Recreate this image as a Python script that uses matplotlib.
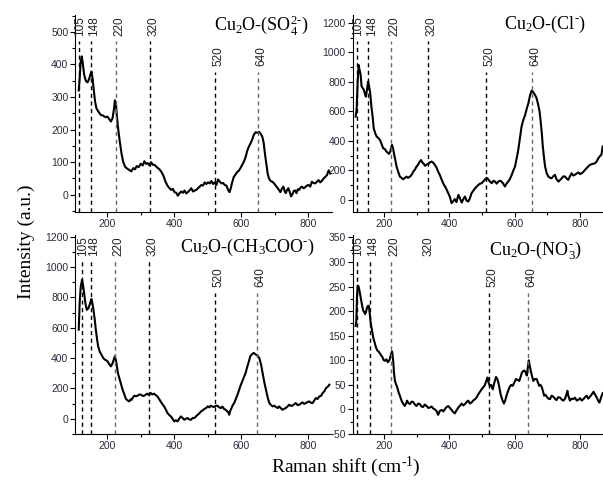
import numpy as np
import matplotlib
matplotlib.use('Agg')
import matplotlib.pyplot as plt
from matplotlib.ticker import MultipleLocator

plt.rcParams['font.family'] = 'Liberation Sans'
plt.rcParams['mathtext.fontset'] = 'custom'
plt.rcParams['mathtext.rm'] = 'Liberation Serif'
plt.rcParams['mathtext.it'] = 'Liberation Serif:italic'

# spectra (Raman shift cm-1, intensity a.u.)
so4 = [(115, 320), (118, 360), (121, 410), (124, 425), (127, 405), (131, 370), (136, 350), (141, 345),
       (146, 355), (150, 370), (153, 378), (156, 360), (160, 320), (164, 285), (168, 265), (174, 255),
       (181, 245), (188, 243), (195, 238), (201, 240), (206, 232), (211, 225), (216, 235), (220, 262),
       (223, 290), (226, 280), (229, 240), (233, 200), (238, 160), (243, 125), (248, 100), (254, 85),
       (260, 80), (266, 76), (272, 72), (278, 82), (283, 78), (288, 88), (294, 85), (300, 95),
       (306, 90), (311, 103), (316, 95), (321, 97), (326, 90), (331, 100), (336, 92), (341, 92),
       (348, 85), (356, 78), (362, 70), (368, 58), (374, 40), (380, 28), (386, 20), (391, 15),
       (396, 18), (401, 8), (406, 6), (411, -3), (416, 5), (421, 10), (426, 6), (431, 13),
       (436, 4), (441, 8), (446, 14), (451, 20), (456, 10), (461, 13), (466, 15), (471, 20),
       (476, 25), (481, 30), (486, 28), (491, 38), (496, 33), (501, 38), (506, 35), (511, 42),
       (516, 33), (521, 38), (526, 30), (531, 47), (536, 40), (541, 35), (546, 36), (551, 30),
       (556, 28), (561, 15), (565, 8), (569, 20), (573, 38), (578, 55), (583, 62), (588, 70),
       (593, 74), (598, 82), (603, 92), (608, 102), (613, 115), (618, 135), (623, 148), (628, 158),
       (633, 170), (638, 185), (643, 192), (648, 190), (653, 193), (658, 188), (663, 178), (667, 160),
       (671, 125), (675, 95), (679, 65), (683, 50), (688, 42), (693, 40), (698, 35), (703, 28),
       (708, 22), (713, 14), (717, 8), (721, 18), (726, 25), (730, 10), (733, 5), (737, 15),
       (741, 20), (745, 8), (749, -5), (753, 2), (757, 12), (761, 13), (765, 5), (769, 17),
       (773, 15), (777, 22), (781, 25), (786, 20), (791, 23), (796, 28), (801, 30), (806, 25),
       (811, 40), (816, 36), (821, 35), (826, 40), (831, 45), (836, 38), (841, 43), (846, 50),
       (851, 55), (856, 60), (861, 75), (866, 65)]

cl = [(114, 565), (117, 620), (120, 800), (123, 915), (126, 880), (129, 850), (132, 770), (135, 760),
      (139, 746), (142, 720), (145, 700), (148, 740), (152, 802), (155, 770), (158, 730), (162, 633),
      (166, 560), (169, 486), (174, 450), (178, 430), (183, 420), (188, 407), (193, 380), (198, 350),
      (203, 345), (208, 328), (212, 320), (216, 312), (220, 330), (223, 360), (225, 373), (228, 350),
      (231, 317), (235, 270), (239, 226), (244, 190), (249, 158), (254, 150), (259, 140), (264, 148),
      (269, 158), (274, 150), (280, 158), (285, 170), (290, 192), (295, 205), (300, 226), (305, 240),
      (310, 260), (314, 270), (318, 253), (322, 245), (326, 231), (331, 240), (336, 244), (341, 255),
      (346, 260), (351, 252), (356, 237), (361, 220), (366, 192), (371, 170), (377, 136), (382, 110),
      (387, 91), (392, 70), (397, 45), (402, 20), (407, -22), (412, -10), (417, 5), (422, -15),
      (428, 34), (433, 10), (438, -18), (443, 5), (448, 23), (453, -5), (458, -11), (463, 10),
      (468, 45), (473, 60), (479, 79), (484, 90), (489, 102), (494, 110), (499, 113), (504, 125),
      (509, 136), (514, 150), (519, 140), (524, 125), (530, 113), (535, 130), (540, 124), (545, 110),
      (550, 124), (555, 130), (560, 124), (565, 110), (570, 91), (575, 110), (580, 124), (585, 140),
      (591, 170), (596, 200), (601, 226), (606, 280), (611, 339), (616, 420), (621, 497), (626, 540),
      (632, 576), (637, 620), (642, 656), (647, 710), (652, 741), (657, 730), (662, 712), (667, 690),
      (672, 644), (676, 600), (679, 543), (683, 450), (686, 362), (690, 280), (693, 226), (698, 180),
      (703, 158), (708, 150), (713, 147), (718, 160), (723, 170), (728, 140), (734, 124), (739, 135),
      (744, 147), (749, 160), (754, 158), (759, 145), (764, 136), (769, 160), (774, 181), (779, 165),
      (784, 170), (790, 180), (795, 186), (800, 175), (805, 181), (810, 190), (815, 204), (820, 215),
      (825, 226), (830, 238), (835, 242), (840, 245), (846, 249), (851, 262), (856, 283), (861, 298),
      (865, 305), (869, 362)]

acetate = [(115, 587), (118, 773), (121, 870), (125, 916), (128, 880), (131, 828), (135, 760), (139, 718),
           (143, 725), (146, 740), (150, 770), (153, 789), (156, 760), (159, 718), (163, 650), (166, 587),
           (170, 520), (173, 477), (178, 440), (183, 422), (188, 400), (193, 389), (197, 385), (201, 378),
           (206, 360), (211, 345), (215, 360), (218, 378), (221, 400), (223, 411), (226, 385), (229, 345),
           (232, 300), (236, 268), (241, 230), (246, 191), (251, 160), (256, 130), (261, 120), (266, 114),
           (270, 128), (273, 125), (277, 140), (281, 152), (286, 148), (291, 152), (296, 160), (301, 158),
           (306, 150), (311, 152), (316, 160), (320, 165), (325, 155), (330, 169), (335, 160), (340, 165),
           (345, 155), (350, 147), (355, 130), (360, 114), (365, 95), (370, 81), (375, 60), (380, 37),
           (385, 25), (390, 15), (395, 0), (400, -18), (405, -10), (410, -18), (415, 0), (420, 15),
           (425, 5), (430, -7), (435, 0), (440, 4), (445, -5), (450, -7), (455, 5), (460, 4),
           (465, 15), (470, 26), (475, 35), (480, 48), (485, 55), (490, 64), (495, 70), (500, 81),
           (505, 75), (509, 86), (514, 80), (519, 77), (524, 85), (529, 86), (534, 75), (539, 70),
           (544, 80), (549, 64), (554, 58), (559, 48), (562, 40), (564, 26), (567, 50), (571, 70),
           (575, 90), (579, 103), (584, 130), (589, 158), (594, 190), (599, 224), (604, 250), (609, 279),
           (613, 300), (617, 334), (622, 370), (627, 411), (632, 425), (637, 433), (641, 428), (644, 422),
           (649, 415), (654, 400), (659, 360), (664, 301), (669, 240), (674, 191), (679, 140), (684, 103),
           (689, 90), (694, 81), (699, 85), (704, 77), (709, 70), (713, 81), (718, 70), (723, 59),
           (728, 65), (733, 70), (738, 80), (743, 92), (748, 85), (753, 86), (758, 95), (763, 103),
           (768, 90), (773, 92), (778, 100), (783, 108), (788, 98), (793, 103), (798, 110), (803, 114),
           (808, 105), (813, 103), (818, 120), (823, 136), (828, 130), (833, 147), (838, 150), (843, 169),
           (848, 180), (853, 202), (858, 210), (863, 224)]

no3 = [(114, 170), (116, 181), (118, 230), (120, 252), (123, 250), (126, 240), (131, 221), (134, 210),
       (137, 201), (140, 198), (143, 194), (146, 200), (149, 208), (152, 211), (154, 211), (157, 195),
       (159, 181), (162, 168), (165, 157), (168, 145), (172, 136), (176, 126), (180, 120), (184, 118),
       (188, 114), (192, 110), (196, 106), (200, 100), (204, 99), (208, 102), (212, 96), (215, 98),
       (218, 102), (222, 112), (225, 118), (227, 110), (229, 96), (231, 75), (234, 58), (237, 52),
       (241, 45), (245, 35), (249, 28), (253, 20), (257, 14), (261, 10), (264, 7), (268, 12),
       (271, 18), (275, 13), (280, 11), (285, 16), (290, 15), (295, 10), (300, 7), (305, 12),
       (310, 11), (315, 6), (320, 5), (325, 10), (331, 7), (336, 3), (341, 4), (346, 6),
       (351, 2), (356, 0), (361, -3), (364, -8), (366, -11), (371, -3), (377, -1), (382, -4),
       (387, 1), (392, 5), (397, 7), (402, 3), (407, -1), (412, -5), (417, -8), (422, -2),
       (428, 4), (433, 8), (438, 12), (443, 8), (448, 11), (453, 15), (458, 18), (463, 12),
       (468, 14), (473, 18), (479, 21), (484, 25), (489, 31), (494, 36), (499, 41), (504, 45),
       (509, 50), (513, 58), (517, 65), (520, 55), (524, 48), (528, 50), (533, 41), (538, 55),
       (543, 66), (547, 62), (550, 55), (554, 42), (557, 31), (562, 20), (567, 12), (571, 18),
       (575, 28), (580, 38), (584, 45), (589, 50), (594, 48), (599, 55), (604, 62), (609, 60),
       (614, 58), (618, 66), (622, 75), (626, 78), (630, 79), (634, 75), (637, 69), (640, 85),
       (643, 100), (646, 90), (649, 79), (653, 68), (657, 58), (662, 62), (667, 62), (671, 55),
       (675, 48), (679, 50), (683, 45), (687, 36), (690, 28), (694, 30), (698, 26), (703, 22),
       (708, 21), (713, 28), (718, 26), (723, 22), (728, 19), (733, 25), (739, 24), (744, 20),
       (749, 18), (754, 22), (758, 30), (761, 38), (764, 28), (769, 18), (774, 22), (779, 21),
       (784, 24), (790, 18), (795, 20), (800, 23), (805, 18), (810, 21), (815, 25), (820, 28),
       (825, 22), (830, 26), (835, 30), (841, 36), (846, 30), (851, 24), (855, 18), (859, 14),
       (863, 22), (866, 28), (869, 33)]

peak_labels = ['105', '148', '220', '320', '520', '640']
# where the dashed marker lines sit in each panel
so4_lines = [117, 151, 226, 327, 521, 650]
cl_lines = [118, 152, 223, 335, 512, 652]
acetate_lines = [125, 151, 224, 325, 522, 647]
no3_lines = [118, 157, 223, 325, 521, 641]

titles = ['Cu$_2$O-(SO$_4^{2\u2010}$)', 'Cu$_2$O-(Cl$^{\u2010}$)',
          'Cu$_2$O-(CH$_3$COO$^{\u2010}$)', 'Cu$_2$O-(NO$_3^{\u2010}$)']

fig = plt.figure(figsize=(6.03, 4.83), dpi=100)

panels = [
    # rect, data, lines, ylim, major, minor, title pos, draw 320 line
    ([0.125, 0.5617, 0.425, 0.4073], so4, so4_lines, (-52, 552), 100, 50, (0.91, 0.95), True),
    ([0.585, 0.5617, 0.415, 0.4073], cl, cl_lines, (-80, 1254), 200, 100, (0.93, 0.95), True),
    ([0.125, 0.1014, 0.425, 0.4121], acetate, acetate_lines, (-101, 1211), 200, 100, (0.935, 0.935), True),
    ([0.585, 0.1014, 0.415, 0.4121], no3, no3_lines, (-50, 355), 50, 25, (0.915, 0.925), False),
]

tick_col = '#2b2b3b'

for i, (rect, data, lines, ylim, major, minor, tpos, draw320) in enumerate(panels):
    ax = fig.add_axes(rect)
    arr = np.array(data)
    ax.plot(arr[:, 0], arr[:, 1], color='black', lw=1.5)
    ax.set_xlim(105, 870)
    ax.set_ylim(*ylim)
    ax.xaxis.set_major_locator(MultipleLocator(200))
    ax.xaxis.set_minor_locator(MultipleLocator(100))
    ax.yaxis.set_major_locator(MultipleLocator(major))
    ax.yaxis.set_minor_locator(MultipleLocator(minor))
    ax.spines['top'].set_visible(False)
    ax.spines['right'].set_visible(False)
    ax.tick_params(which='major', length=3.5, width=0.8, labelsize=7.5,
                   labelcolor=tick_col, pad=1.5)
    ax.tick_params(which='minor', length=2, width=0.8)

    for j, (lx, lab) in enumerate(zip(lines, peak_labels)):
        low = j >= 4
        col = '#666666' if lab in ('220', '640') else 'black'
        if lab != '320' or draw320:
            ax.axvline(lx, ymin=0, ymax=0.71 if low else 0.87, color=col,
                       lw=1.0, ls=(0, (3, 2.5)))
        off = 0.5 if lab == '105' else 2.5
        ax.annotate(lab, xy=(lx, 0.84 if low else 0.995), xycoords=('data', 'axes fraction'),
                    xytext=(off, 0), textcoords='offset points', rotation=90,
                    ha='center', va='top', fontsize=8.5, color='#222222')

    ax.text(tpos[0], tpos[1], titles[i], transform=ax.transAxes, ha='right', va='center',
            fontsize=13, family='Liberation Serif')

fig.text(0.043, 0.50, 'Intensity (a.u.)', rotation=90, ha='center', va='center',
         fontsize=14, family='Liberation Serif')
fig.text(0.574, 0.033, 'Raman shift (cm$^{\u20101}$)', ha='center', va='center',
         fontsize=14, family='Liberation Serif')

fig.savefig('out.png', dpi=100)
